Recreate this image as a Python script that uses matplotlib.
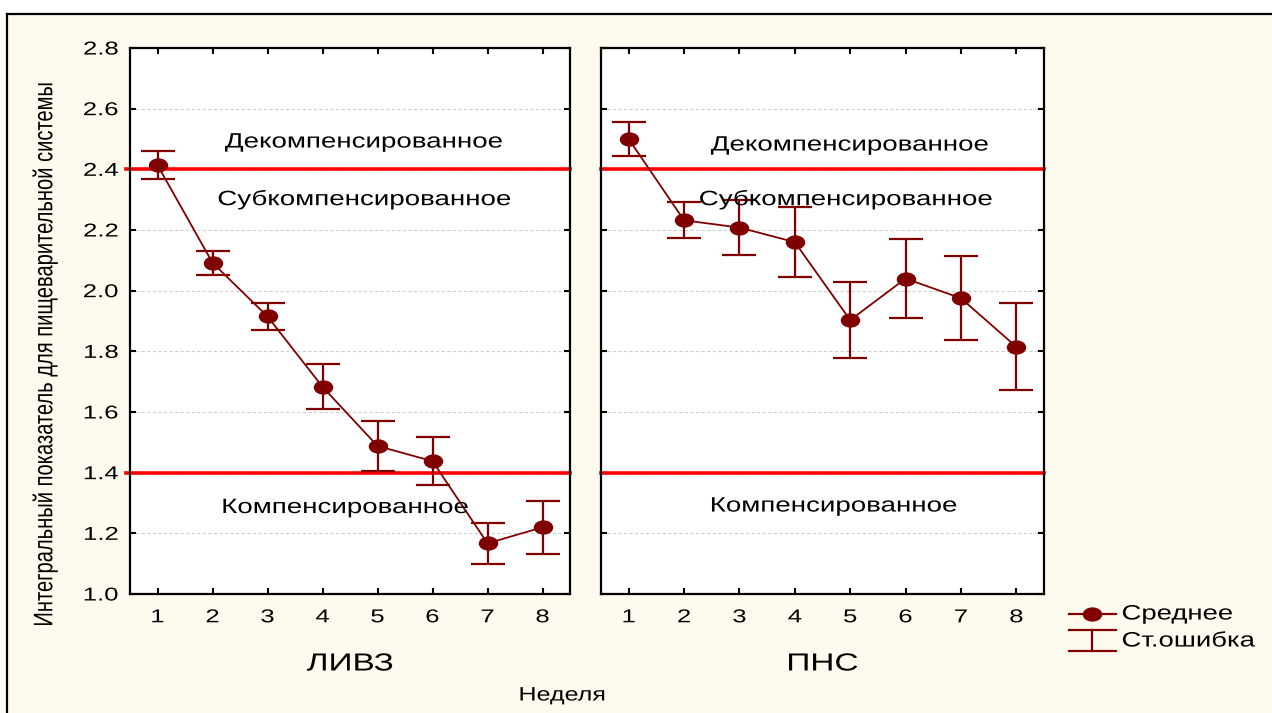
import matplotlib
matplotlib.use('Agg')
import matplotlib.pyplot as plt
from matplotlib.lines import Line2D
from matplotlib.patches import Rectangle
from matplotlib.path import Path
from matplotlib.patheffects import AbstractPathEffect
from matplotlib.transforms import Affine2D

plt.rcParams['font.family'] = ['Liberation Sans', 'DejaVu Sans']

# weeks
weeks = [1, 2, 3, 4, 5, 6, 7, 8]

# LIVZ group: means and standard errors
livz_mean = [2.414, 2.092, 1.915, 1.683, 1.488, 1.438, 1.167, 1.220]
livz_se = [0.047, 0.040, 0.044, 0.074, 0.081, 0.080, 0.068, 0.087]

# PNS group: means and standard errors
pns_mean = [2.500, 2.232, 2.208, 2.160, 1.903, 2.040, 1.975, 1.815]
pns_se = [0.055, 0.060, 0.090, 0.116, 0.126, 0.131, 0.139, 0.143]

# thresholds between states
thresholds = [2.4, 1.4]
zone_names = ['Декомпенсированное', 'Субкомпенсированное', 'Компенсированное']
zone_y_livz = [2.49, 2.30, 1.285]
zone_x_livz = [4.76, 4.77, 4.42]
zone_y_pns = [2.48, 2.30, 1.29]
zone_x_pns = [5.0, 4.93, 4.71]

group_names = ['ЛИВЗ', 'ПНС']
yticks = [1.0, 1.2, 1.4, 1.6, 1.8, 2.0, 2.2, 2.4, 2.6, 2.8]

dark = '#800000'
cream = '#fefaee'
W, H = 1272, 713


class WideText(AbstractPathEffect):
    # the original picture is stretched sideways, so stretch the glyphs the same way
    def __init__(self, sx=1.33, anchor='center', axis='x'):
        super().__init__()
        self.sx = sx
        self.anchor = anchor
        self.axis = axis

    def draw_path(self, renderer, gc, tpath, affine, rgbFace=None):
        ext = tpath.get_extents()
        if self.axis == 'x':
            if self.anchor == 'center':
                c = (ext.x0 + ext.x1) / 2
            elif self.anchor == 'right':
                c = ext.x1
            else:
                c = 0
            st = Affine2D().translate(-c, 0).scale(self.sx, 1).translate(c, 0)
        else:
            c = (ext.y0 + ext.y1) / 2
            st = Affine2D().translate(0, -c).scale(1, self.sx).translate(0, c)
        renderer.draw_path(gc, tpath, st + affine, rgbFace)


# wide oval marker, like the stretched dots of the original
circ = Path.unit_circle()
oval = Path(circ.vertices * [1.4, 1.0], circ.codes)


def fx(px):
    return px / W


def fy(py):
    return 1 - py / H


fig = plt.figure(figsize=(W / 100, H / 100), dpi=100)
fig.patch.set_facecolor('white')

# cream frame with black top and left edge
fig.add_artist(Rectangle((fx(7), 0), 1, fy(13.5), transform=fig.transFigure,
                         facecolor=cream, edgecolor='none', zorder=-10))
fig.add_artist(Line2D([fx(7), 1], [fy(13.5), fy(13.5)], transform=fig.transFigure,
                      color='black', lw=1.6))
fig.add_artist(Line2D([fx(7), fx(7)], [0, fy(13.5)], transform=fig.transFigure,
                      color='black', lw=1.6))

ax1 = fig.add_axes([fx(130), fy(594), 440 / W, 546 / H])
ax2 = fig.add_axes([fx(601), fy(594), 443 / W, 546 / H])

panels = [
    (ax1, livz_mean, livz_se, zone_x_livz, zone_y_livz, group_names[0], -0.009),
    (ax2, pns_mean, pns_se, zone_x_pns, zone_y_pns, group_names[1], 0),
]

for ax, mean, se, zx, zy, name, x_start in panels:
    ax.set_facecolor('white')
    ax.set_xlim(0.5, 8.5)
    ax.set_ylim(1.0, 2.8)
    ax.set_yticks(yticks)
    ax.set_xticks(weeks)
    ax.grid(axis='y', color='#cfcfcf', linestyle='--', lw=0.8, dashes=(3, 2))
    ax.set_axisbelow(True)

    for t in thresholds:
        ax.axhline(t, xmin=x_start, color='#ff0000', lw=2.6, zorder=2, clip_on=False)

    ax.errorbar(weeks, mean, yerr=se, color=dark, lw=1.3, marker=oval, markersize=13,
                ecolor=dark, elinewidth=1.6, capsize=12, capthick=1.6, zorder=3)

    for txt, x, y in zip(zone_names, zx, zy):
        ax.text(x, y, txt, ha='center', va='center', fontsize=15, color='black', zorder=4,
                path_effects=[WideText(1.33)])

    ax.tick_params(direction='in', length=4, width=1.5, top=True, right=True,
                   labelsize=13.4, colors='black')
    ax.tick_params(axis='x', pad=11)
    ax.tick_params(axis='y', pad=8.5)
    for sp in ax.spines.values():
        sp.set_linewidth(1.6)

    for lbl in ax.get_xticklabels():
        lbl.set_path_effects([WideText(1.38)])
    for lbl in ax.get_yticklabels():
        lbl.set_path_effects([WideText(1.38, anchor='right')])

    ax.text(0.5, (594 - 663.5) / 546, name, transform=ax.transAxes, ha='center', va='center',
            fontsize=17.8, path_effects=[WideText(1.35)])

ax2.tick_params(axis='y', labelleft=False)

fig.text(fx(45), fy(354.5), 'Интегральный показатель для пищеварительной системы',
         rotation=90, ha='center', va='center', fontsize=14.5,
         path_effects=[WideText(1.33, axis='y')])
fig.text(fx(562.5), fy(696), 'Неделя', ha='center', va='center', fontsize=14,
         path_effects=[WideText(1.29)])

# legend drawn by hand
lx0, lx1, lxm = fx(1068.5), fx(1116), fx(1092)
y_mean = fy(614)
fig.add_artist(Line2D([lx0, lx1], [y_mean, y_mean], transform=fig.transFigure,
                      color=dark, lw=1.6))
fig.add_artist(Line2D([lxm], [y_mean], transform=fig.transFigure, color=dark,
                      marker=oval, markersize=13, lw=0))
y_top, y_bot = fy(630), fy(651)
fig.add_artist(Line2D([lx0, lx1], [y_top, y_top], transform=fig.transFigure, color=dark, lw=1.6))
fig.add_artist(Line2D([lx0, lx1], [y_bot, y_bot], transform=fig.transFigure, color=dark, lw=1.6))
fig.add_artist(Line2D([lxm, lxm], [y_top, y_bot], transform=fig.transFigure, color=dark, lw=1.6))
fig.text(fx(1121.5), y_mean, 'Среднее', ha='left', va='center', fontsize=15,
         path_effects=[WideText(1.32, anchor='left')])
fig.text(fx(1121.5), fy(641), 'Ст.ошибка', ha='left', va='center', fontsize=15,
         path_effects=[WideText(1.32, anchor='left')])

fig.savefig('out.png', dpi=100, facecolor=fig.get_facecolor())
